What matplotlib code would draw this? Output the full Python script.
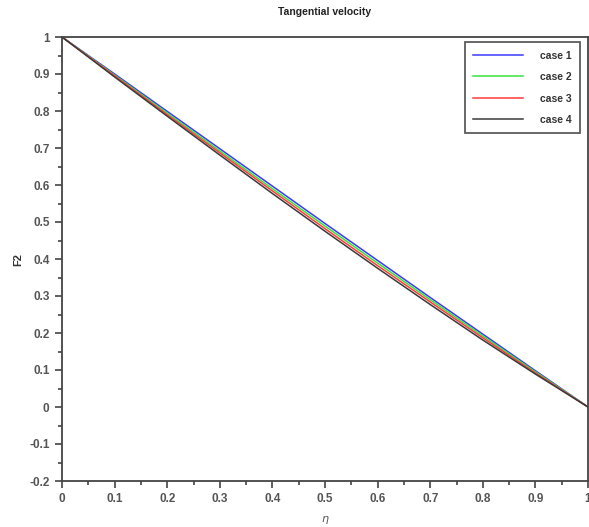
import numpy as np
import matplotlib.pyplot as plt
from matplotlib.ticker import MultipleLocator

# Perfil de velocidad tangencial F2(eta) para los cuatro casos
eta = [0.0, 0.1, 0.2, 0.3, 0.4, 0.5, 0.6, 0.7, 0.8, 0.9, 1.0]
case1 = [1.000, 0.900, 0.799, 0.698, 0.597, 0.496, 0.396, 0.296, 0.197, 0.098, 0.000]
case2 = [1.000, 0.897, 0.794, 0.692, 0.590, 0.489, 0.389, 0.290, 0.192, 0.095, 0.000]
case3 = [1.000, 0.895, 0.790, 0.687, 0.584, 0.482, 0.382, 0.284, 0.187, 0.092, 0.000]
case4 = [1.000, 0.892, 0.786, 0.681, 0.577, 0.475, 0.375, 0.277, 0.181, 0.089, 0.000]

series = [case1, case2, case3, case4]
labels = ["case 1", "case 2", "case 3", "case 4"]
colors = ["#3a3aff", "#3ae03a", "#ff3a3a", "#3a3a3a"]

plt.rcParams['font.family'] = ['Liberation Sans', 'DejaVu Sans']

fig = plt.figure(figsize=(5.89, 5.27), dpi=100)
ax = fig.add_axes([62 / 589, 46 / 527, 526 / 589, 444 / 527])

for ys, lab, c in zip(series, labels, colors):
    ax.plot(eta, ys, color=c, linewidth=1.1, label=lab)

ax.set_xlim(0, 1)
ax.set_ylim(-0.2, 1)
ax.xaxis.set_minor_locator(MultipleLocator(0.05))
ax.yaxis.set_minor_locator(MultipleLocator(0.05))
ax.set_xticks(np.arange(0, 1.01, 0.1))
ax.set_xticklabels(["0", "0.1", "0.2", "0.3", "0.4", "0.5", "0.6", "0.7", "0.8", "0.9", "1"])
ax.set_yticks(np.arange(-0.2, 1.01, 0.1))
ax.set_yticklabels(["-0.2", "-0.1", "0", "0.1", "0.2", "0.3", "0.4", "0.5",
                    "0.6", "0.7", "0.8", "0.9", "1"])
ax.tick_params(which='major', direction='out', length=5, width=1.2,
               labelsize=8.5, colors='#444444', pad=4)
ax.tick_params(which='minor', direction='out', length=3, width=1.2, colors='#444444')
ax.tick_params(top=False, right=False)
for lbl in ax.get_xticklabels() + ax.get_yticklabels():
    lbl.set_fontweight('semibold')
    lbl.set_color('#555555')
for s in ax.spines.values():
    s.set_color('#444444')
    s.set_linewidth(1.3)

ax.set_title("Tangential velocity", fontsize=7.5, color='#222222', pad=16,
             fontweight='bold')
ax.set_xlabel(r"$\eta$", fontsize=8, color='#555555', labelpad=6)
ax.set_ylabel("F2", fontsize=8, color='#333333', labelpad=4, fontweight='bold')

leg = ax.legend(loc='upper right', bbox_to_anchor=(0.99, 0.995), fontsize=7.5,
                frameon=True, fancybox=False, handlelength=4.8, labelspacing=1.1,
                borderpad=0.8, handletextpad=1.6, borderaxespad=0.3)
leg.get_frame().set_edgecolor('#333333')
leg.get_frame().set_linewidth(1.3)
for t in leg.get_texts():
    t.set_fontweight('semibold')
    t.set_color('#333333')

fig.savefig("out.png", dpi=100)
